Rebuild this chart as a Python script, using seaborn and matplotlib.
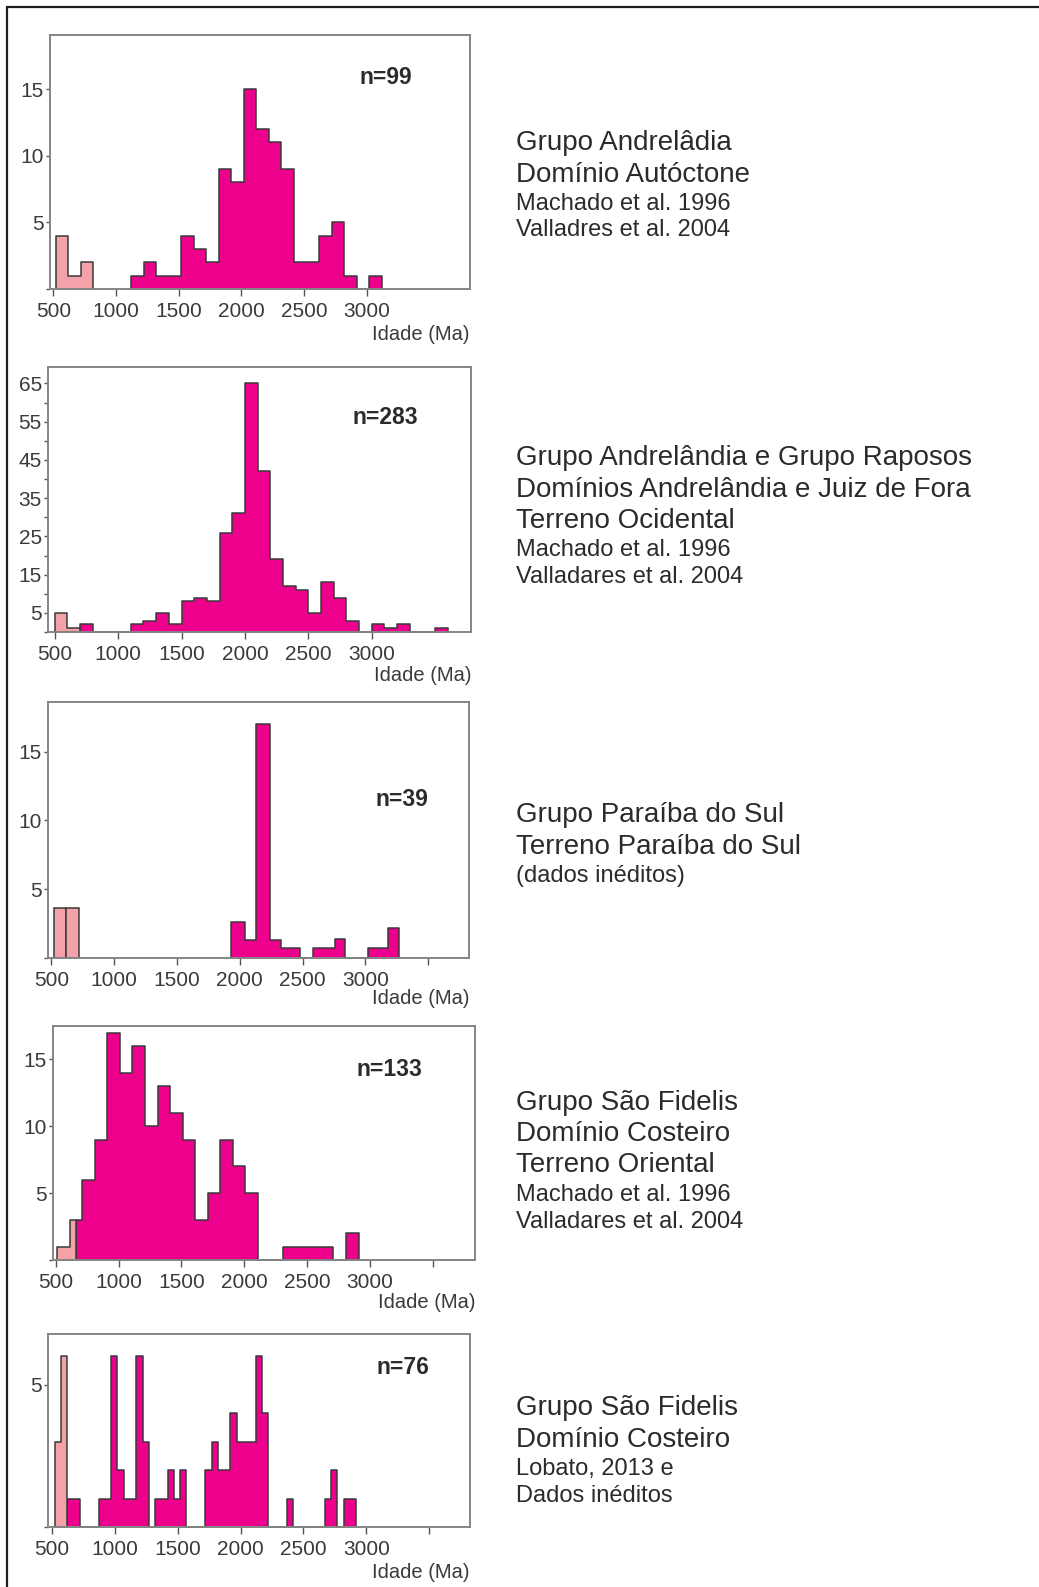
import numpy as np
import pandas as pd
import matplotlib
matplotlib.use("Agg")
import matplotlib.pyplot as plt
from matplotlib.lines import Line2D
import seaborn as sns

# ---------------------------------------------------------------------------
# Detrital zircon U-Pb age histograms (counts per age bin, Ma)
# "young" = Neoproterozoic grains (light pink), "old" = older grains (magenta)
# ---------------------------------------------------------------------------

# Grupo Andrelândia - Domínio Autóctone (n=99)
andrelandia_young_edges = [520, 620, 720, 820]
andrelandia_young_counts = [4, 1, 2]
andrelandia_old_edges = [1120, 1220, 1320, 1420, 1520, 1620, 1720, 1820, 1920, 2020,
                         2120, 2220, 2320, 2420, 2520, 2620, 2720, 2820, 2920, 3020, 3120]
andrelandia_old_counts = [1, 2, 1, 1, 4, 3, 2, 9, 8, 15,
                          12, 11, 9, 2, 2, 4, 5, 1, 0, 1]

# Grupo Andrelândia e Grupo Raposos (n=283)
raposos_young_edges = [500, 600, 700]
raposos_young_counts = [5, 1]
raposos_old_edges = [700, 800, 900, 1000, 1100, 1200, 1300, 1400, 1500, 1600,
                     1700, 1800, 1900, 2000, 2100, 2200, 2300, 2400, 2500, 2600,
                     2700, 2800, 2900, 3000, 3100, 3200, 3300, 3400, 3500, 3600]
raposos_old_counts = [2, 0, 0, 0, 2, 3, 5, 2, 8, 9,
                      8, 26, 31, 65, 42, 19, 12, 11, 5, 13,
                      9, 3, 0, 2, 1, 2, 0, 0, 1]

# Grupo Paraíba do Sul (n=39)
paraiba_young_edges = [520, 620, 720]
paraiba_young_counts = [3.6, 3.6]
paraiba_old_edges = [1930, 2040, 2130, 2240, 2330, 2480, 2580, 2760, 2840, 3020, 3180, 3270]
paraiba_old_counts = [2.6, 1.3, 17, 1.3, 0.7, 0, 0.7, 1.4, 0, 0.7, 2.2]

# Grupo São Fidelis - Machado/Valladares (n=133)
fidelis_young_edges = [510, 610, 665]
fidelis_young_counts = [1, 3]
fidelis_old_edges = [665, 710, 810, 910, 1010, 1110, 1210, 1310, 1410, 1510, 1610,
                     1710, 1810, 1910, 2010, 2110, 2210, 2310, 2410, 2510, 2610,
                     2710, 2810, 2910]
fidelis_old_counts = [3, 6, 9, 17, 14, 16, 10, 13, 11, 9, 3,
                      5, 9, 7, 5, 0, 0, 1, 1, 1, 1,
                      0, 2]

# Grupo São Fidelis - Lobato 2013 e dados inéditos (n=76)
lobato_young_edges = [520, 570, 620]
lobato_young_counts = [3, 6]
lobato_old_edges = [620, 670, 720, 770, 820, 870, 920, 970, 1020, 1070, 1120,
                    1170, 1220, 1270, 1320, 1370, 1420, 1470, 1520, 1570, 1620,
                    1670, 1720, 1770, 1820, 1870, 1920, 1970, 2020, 2070, 2120,
                    2170, 2220, 2270, 2320, 2370, 2420, 2470, 2520, 2570, 2620,
                    2670, 2720, 2770, 2820, 2870, 2920]
lobato_old_counts = [1, 1, 0, 0, 0, 1, 1, 6, 2, 1,
                     1, 6, 3, 0, 1, 1, 2, 1, 2, 0,
                     0, 0, 2, 3, 2, 2, 4, 3, 3, 3,
                     6, 4, 0, 0, 0, 1, 0, 0, 0, 0,
                     0, 1, 2, 0, 1, 1]

sample_sizes = ["n=99", "n=283", "n=39", "n=133", "n=76"]

captions = [
    [("Grupo Andrelâdia", "big"), ("Domínio Autóctone", "big"),
     ("Machado et al. 1996", "small"), ("Valladres et al. 2004", "small")],
    [("Grupo Andrelândia e Grupo Raposos", "big"),
     ("Domínios Andrelândia e Juiz de Fora", "big"),
     ("Terreno Ocidental", "big"),
     ("Machado et al. 1996", "small"), ("Valladares et al. 2004", "small")],
    [("Grupo Paraíba do Sul", "big"), ("Terreno Paraíba do Sul", "big"),
     ("(dados inéditos)", "small")],
    [("Grupo São Fidelis", "big"), ("Domínio Costeiro", "big"),
     ("Terreno Oriental", "big"),
     ("Machado et al. 1996", "small"), ("Valladares et al. 2004", "small")],
    [("Grupo São Fidelis", "big"), ("Domínio Costeiro", "big"),
     ("Lobato, 2013 e", "small"), ("Dados inéditos", "small")],
]

x_tick_values = [500, 1000, 1500, 2000, 2500, 3000, 3500]

# ---------------------------------------------------------------------------
# Style
# ---------------------------------------------------------------------------
sns.set_style("white")
plt.rcParams["font.family"] = ["Liberation Sans", "DejaVu Sans"]

YOUNG_COLOR = "#F2A2A8"
OLD_COLOR = "#EC008C"
OUTLINE = "#3a3a3a"
SPINE = "#858585"
TEXT = "#2b2b2b"
TICK_TEXT = "#3a3a3a"

W, H = 1039, 1587
fig = plt.figure(figsize=(W / 100, H / 100), dpi=100)
fig.patch.set_facecolor("white")


def fx(px):
    return px / W


def fy(py):
    return 1 - py / H


# layout of each histogram panel in pixels: left, right, top, bottom
panels = [
    dict(box=(50, 470, 35, 289), xlim=(474, 3824), ylim=(0, 19.07),
         yticks=[0, 5, 10, 15], ylabels=["", "5", "10", "15"], tick3500=False,
         young=(andrelandia_young_edges, andrelandia_young_counts, "step"),
         old=(andrelandia_old_edges, andrelandia_old_counts),
         n_xy=(386, 78), label_y=334, cap_ys=[143, 175, 204, 230]),
    dict(box=(48, 471, 367, 632), xlim=(447, 3783), ylim=(0, 69.3),
         yticks=list(range(0, 70, 5)),
         ylabels=[str(v) if v % 10 == 5 else "" for v in range(0, 70, 5)],
         tick3500=False,
         young=(raposos_young_edges, raposos_young_counts, "step"),
         old=(raposos_old_edges, raposos_old_counts),
         n_xy=(385, 417), label_y=676, cap_ys=[458, 490, 521, 550, 577]),
    dict(box=(48, 469, 702, 958), xlim=(474, 3824), ylim=(0, 18.6),
         yticks=[0, 5, 10, 15], ylabels=["", "5", "10", "15"], tick3500=True,
         young=(paraiba_young_edges, paraiba_young_counts, "bars"),
         old=(paraiba_old_edges, paraiba_old_counts),
         n_xy=(402, 800), label_y=999, cap_ys=[815, 847, 876]),
    dict(box=(53, 475, 1026, 1260), xlim=(478, 3837), ylim=(0, 17.5),
         yticks=[0, 5, 10, 15], ylabels=["", "5", "10", "15"], tick3500=True,
         young=(fidelis_young_edges, fidelis_young_counts, "step"),
         old=(fidelis_old_edges, fidelis_old_counts),
         n_xy=(389, 1069), label_y=1303, cap_ys=[1103, 1134, 1165, 1195, 1222]),
    dict(box=(48, 470, 1334, 1527), xlim=(468, 3826), ylim=(0, 6.79),
         yticks=[0, 5], ylabels=["", "5"], tick3500=True,
         young=(lobato_young_edges, lobato_young_counts, "step"),
         old=(lobato_old_edges, lobato_old_counts),
         n_xy=(403, 1368), label_y=1572, cap_ys=[1408, 1440, 1469, 1496]),
]


def draw_hist(ax, edges, counts, color, element):
    mids = [(a + b) / 2 for a, b in zip(edges[:-1], edges[1:])]
    frame = pd.DataFrame({"idade": mids, "n": list(counts)})
    sns.histplot(data=frame, x="idade", weights="n", bins=list(edges),
                 stat="count", element=element, fill=True, color=color,
                 alpha=1, edgecolor=OUTLINE, linewidth=1.1, ax=ax)


for i, p in enumerate(panels):
    l, r, t, b = p["box"]
    ax = fig.add_axes([fx(l), fy(b), fx(r - l), (b - t) / H])

    y_edges, y_counts, y_elem = p["young"]
    o_edges, o_counts = p["old"]
    draw_hist(ax, o_edges, o_counts, OLD_COLOR, "step")
    draw_hist(ax, y_edges, y_counts, YOUNG_COLOR, y_elem)

    ax.set_xlim(*p["xlim"])
    ax.set_ylim(*p["ylim"])
    ax.set(xlabel="", ylabel="")

    ticks = x_tick_values if p["tick3500"] else x_tick_values[:-1]
    ax.set_xticks(ticks)
    ax.set_xticklabels([str(v) if v <= 3000 else "" for v in ticks])
    ax.set_yticks(p["yticks"])
    ax.set_yticklabels(p["ylabels"])

    ax.tick_params(axis="x", bottom=True, direction="out", length=5, width=1.0,
                   color="#555555", pad=4.5, labelsize=15, labelcolor=TICK_TEXT)
    ax.tick_params(axis="y", left=True, direction="out", length=3, width=1.0,
                   color="#555555", pad=1.5, labelsize=15, labelcolor=TICK_TEXT)
    for s in ax.spines.values():
        s.set_color(SPINE)
        s.set_linewidth(1.4)
    ax.set_facecolor("white")

    # sample size
    nx, ny = p["n_xy"]
    fig.text(fx(nx), fy(ny), sample_sizes[i], ha="center", va="center",
             fontsize=16.5, fontweight="bold", color=TEXT)

    # axis title
    fig.text(fx(r), fy(p["label_y"]), "Idade (Ma)", ha="right", va="center",
             fontsize=14.5, color=TICK_TEXT)

    # caption block
    for (line, kind), yy in zip(captions[i], p["cap_ys"]):
        fig.text(fx(516), fy(yy), line, ha="left", va="center",
                 fontsize=20 if kind == "big" else 17, color=TEXT)

# outer frame (left and top edges)
fig.add_artist(Line2D([fx(7.3), fx(7.3)], [0, fy(6.7)], color="#1e1e1e", lw=1.6))
fig.add_artist(Line2D([fx(7.3), 1], [fy(6.7), fy(6.7)], color="#1e1e1e", lw=1.6))

fig.savefig("out.png", dpi=100, facecolor="white")
